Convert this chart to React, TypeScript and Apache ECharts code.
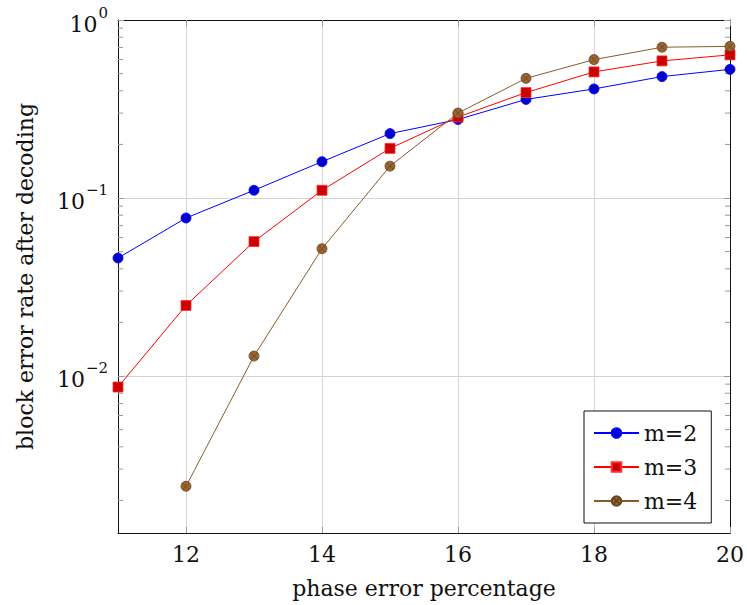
import React, { useEffect, useRef } from "react";
import * as echarts from "echarts";

const xValues = [11, 12, 13, 14, 15, 16, 17, 18, 19, 20];
const m2 = [0.046, 0.0772, 0.1105, 0.16, 0.23, 0.276, 0.358, 0.41, 0.481, 0.528];
const m3 = [0.00867, 0.0249, 0.0569, 0.1105, 0.19, 0.285, 0.391, 0.511, 0.589, 0.637];
const m4 = [null, 0.0024, 0.01295, 0.0519, 0.151, 0.3, 0.47, 0.599, 0.703, 0.711];
const seriesNames = ["m=2", "m=3", "m=4"];
const xTicks = [12, 14, 16, 18, 20];
const yTicks = [0.01, 0.1, 1];
const yMinorTicks = [
  0.002, 0.003, 0.004, 0.005, 0.006, 0.007, 0.008, 0.009,
  0.02, 0.03, 0.04, 0.05, 0.06, 0.07, 0.08, 0.09,
  0.2, 0.3, 0.4, 0.5, 0.6, 0.7, 0.8, 0.9,
];
const xMin = 11;
const xMax = 20;
const yMin = 0.001312;
const yMax = 1;

const FONT = "'DejaVu Serif', 'Liberation Serif', serif";

const otimes =
  "path://M2,1A1,1,0,1,1,0,1A1,1,0,1,1,2,1ZM1.707,0.293L0.293,1.707M0.293,0.293L1.707,1.707";

export default function App() {
  const ref = useRef<HTMLDivElement>(null);
  useEffect(() => {
    if (!ref.current) return;
    const chart = echarts.init(ref.current, null, { renderer: "svg" });
    const pair = (arr: (number | null)[]) => xValues.map((x, i) => [x, arr[i]]);
    const axisLine = { show: true, lineStyle: { color: "#111", width: 1 } };
    const tickStyle = { color: "#999", width: 1 };
    const option: any = {
      animation: false,
      backgroundColor: "#fff",
      grid: { left: 118, right: 15, top: 20, bottom: 72, containLabel: false },
      xAxis: [
        {
          type: "value",
          min: xMin,
          max: xMax,
          name: "phase error percentage",
          nameLocation: "middle",
          nameGap: 44,
          nameTextStyle: { fontFamily: FONT, fontSize: 22, color: "#111" },
          axisLine,
          axisTick: { show: true, inside: true, length: 6, lineStyle: tickStyle, customValues: xTicks },
          axisLabel: {
            customValues: xTicks,
            fontFamily: FONT,
            fontSize: 22,
            color: "#111",
            margin: 10,
          },
          splitLine: { show: true, lineStyle: { color: "#d4d4d4", width: 1 } },
        },
        {
          type: "value",
          position: "top",
          min: xMin,
          max: xMax,
          axisLine,
          axisTick: { show: true, inside: true, length: 6, lineStyle: tickStyle, customValues: xTicks },
          axisLabel: { show: false },
          splitLine: { show: false },
        },
      ],
      yAxis: [
        {
          type: "log",
          logBase: 10,
          min: yMin,
          max: yMax,
          name: "block error rate after decoding",
          nameLocation: "middle",
          nameGap: 82,
          nameTextStyle: { fontFamily: FONT, fontSize: 22, color: "#111" },
          axisLine,
          axisTick: { show: true, inside: true, length: 6, lineStyle: tickStyle, customValues: yTicks },
          axisLabel: {
            customValues: yTicks,
            margin: 10,
            formatter: (v: number) => {
              const e = Math.round(Math.log10(v));
              const es = e < 0 ? "\u2212" + Math.abs(e) : String(e);
              return "{b|10}{s|" + es + "}";
            },
            rich: {
              b: { fontFamily: FONT, fontSize: 22, color: "#111", lineHeight: 30, verticalAlign: "bottom" },
              s: { fontFamily: FONT, fontSize: 15, color: "#111", lineHeight: 30, verticalAlign: "top", padding: [0, 0, 0, 1] },
            },
          },
          splitLine: { show: true, lineStyle: { color: "#d4d4d4", width: 1 } },
        },
        {
          type: "log",
          logBase: 10,
          position: "right",
          min: yMin,
          max: yMax,
          axisLine,
          axisTick: { show: true, inside: true, length: 6, lineStyle: tickStyle, customValues: yTicks },
          axisLabel: { show: false },
          splitLine: { show: false },
        },
      ],
      legend: {
        data: seriesNames,
        orient: "vertical",
        left: 584,
        top: 411,
        padding: [11, 14, 11, 9],
        itemGap: 12,
        itemWidth: 45,
        itemHeight: 12,
        borderColor: "#111",
        borderWidth: 1,
        backgroundColor: "#fff",
        textStyle: { fontFamily: FONT, fontSize: 22, color: "#111", lineHeight: 20 },
      },
      series: [
        {
          name: seriesNames[0],
          type: "line",
          data: pair(m2),
          symbol: "circle",
          symbolSize: 10,
          lineStyle: { color: "#0000ff", width: 1 },
          itemStyle: { color: "#0000cc", borderColor: "#0000ff", borderWidth: 0.8 },
          z: 3,
        },
        {
          name: seriesNames[1],
          type: "line",
          data: pair(m3),
          symbol: "rect",
          symbolSize: 10,
          lineStyle: { color: "#ff0000", width: 1 },
          itemStyle: { color: "#cc0000", borderColor: "#ff3030", borderWidth: 0.8 },
          z: 4,
        },
        {
          name: seriesNames[2],
          type: "line",
          data: pair(m4),
          symbol: otimes,
          symbolSize: 10,
          lineStyle: { color: "#8a5a2b", width: 1 },
          itemStyle: { color: "#996633", borderColor: "#6b4520", borderWidth: 0.8 },
          z: 5,
        },
        {
          name: "minor",
          type: "custom",
          coordinateSystem: "cartesian2d",
          silent: true,
          clip: false,
          data: yMinorTicks.map((v) => [xMin, v]),
          renderItem: (params: any, api: any) => {
            const v = api.value(1);
            const pl = api.coord([xMin, v]);
            const pr = api.coord([xMax, v]);
            const style = { stroke: "#999", lineWidth: 1 };
            return {
              type: "group",
              children: [
                { type: "line", shape: { x1: pl[0], y1: pl[1], x2: pl[0] + 5, y2: pl[1] }, style },
                { type: "line", shape: { x1: pr[0], y1: pr[1], x2: pr[0] - 5, y2: pr[1] }, style },
              ],
            };
          },
          z: 1,
        },
      ],
    };
    chart.setOption(option);
    return () => chart.dispose();
  }, []);
  return (
    <div
      ref={ref}
      style={{ position: "fixed", left: 0, top: 0, width: 747, height: 605, background: "#fff" }}
    />
  );
}
